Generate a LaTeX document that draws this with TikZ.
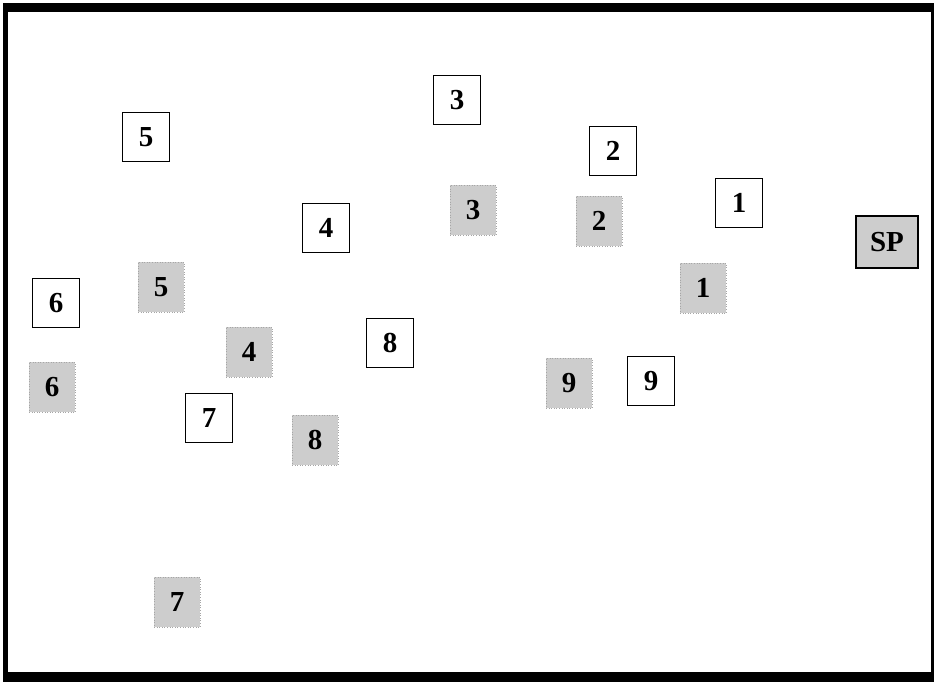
\documentclass[tikz,border=0pt]{standalone}
\usepackage{fontspec}
\setmainfont{Liberation Serif}
\usepackage{xcolor}
\usetikzlibrary{positioning}
\definecolor{scangray}{RGB}{205,205,205}
\tikzset{
  frame/.style={fill=black},
  inner/.style={fill=white},
  whitebox/.style={rectangle,draw=black,fill=white,line width=1.8pt,minimum width=47pt,minimum height=49pt,inner sep=0pt,font=\fontsize{29}{31}\selectfont\bfseries},
  graybox/.style={rectangle,fill=scangray,draw=gray!70,dotted,line width=0.6pt,minimum width=46pt,minimum height=50pt,inner sep=0pt,font=\fontsize{29}{31}\selectfont\bfseries},
  spbox/.style={rectangle,fill=scangray,draw=black,line width=1.6pt,minimum width=62pt,minimum height=52pt,inner sep=0pt,font=\fontsize{29}{31}\selectfont\bfseries}
}
\begin{document}
\begin{tikzpicture}[x=1pt,y=-1pt]
  \useasboundingbox (0,0) rectangle (934,684);
  \fill[frame] (3,3) rectangle (934,682);
  \fill[inner] (8,12) rectangle (931,672);
  % framed labels
  \foreach \n/\x/\y in {1/739/203,2/613/151,3/457/100,4/326/228,5/146/137,6/56/303,7/209/418,8/390/343,9/651/381}{
    \node[whitebox] (w\n) at (\x,\y) {\n};
  }
  % shaded labels
  \foreach \n/\x/\y in {1/703/288,2/599/221,3/473/210,4/249/352,5/161/287,6/52/387,7/177/602,8/315/440,9/569/383}{
    \node[graybox] (g\n) at (\x,\y) {\n};
  }
  \node[spbox] (sp) at (887,242) {SP};
\end{tikzpicture}
\end{document}
